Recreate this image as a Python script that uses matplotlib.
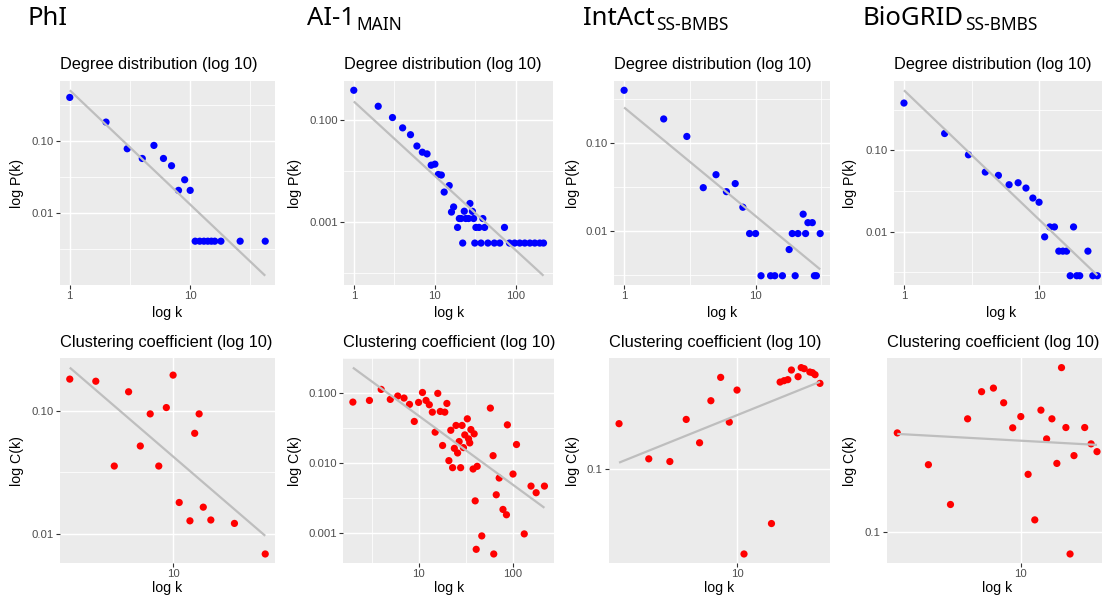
import numpy as np
import matplotlib
matplotlib.use("Agg")
import matplotlib.pyplot as plt
from matplotlib.ticker import FixedLocator, FixedFormatter, NullFormatter

# ---------------- data ----------------
phi_deg_k = [1, 2, 3, 4, 5, 6, 7, 8, 9, 10, 11, 12, 13, 14, 15, 16, 18, 26, 42]
phi_deg_p = [0.398, 0.1816, 0.0778, 0.0571, 0.0865, 0.0571, 0.0453, 0.0207, 0.0290, 0.0207,
             0.00411, 0.00411, 0.00411, 0.00411, 0.00411, 0.00411, 0.00411, 0.00411, 0.00411]

phi_cc_k = [2, 3, 4, 5, 6, 7, 8, 9, 10, 11, 13, 14, 15, 16, 18, 26, 42]
phi_cc_c = [0.180, 0.173, 0.0354, 0.142, 0.0515, 0.0939, 0.0354, 0.1057, 0.194, 0.0179,
            0.0127, 0.0653, 0.0939, 0.0164, 0.0129, 0.0121, 0.00683]

ai1_deg_k = [1, 2, 3, 4, 5, 6, 7, 8, 9, 10, 11, 12, 13, 15, 16, 17, 19, 20, 21, 22, 23, 24,
             26, 27, 29, 30, 31, 32, 35, 37, 39, 41, 45, 54, 63, 72, 83, 96, 111, 128, 148,
             170, 196, 218]
ai1_deg_p = [0.377, 0.183, 0.110, 0.069, 0.0507, 0.0304, 0.0230, 0.0213, 0.0128, 0.0134,
             0.0084, 0.0082, 0.0038, 0.0051, 0.00154, 0.00194, 0.00077, 0.00115, 0.00115,
             0.00038, 0.0016, 0.00115, 0.00115, 0.00227, 0.00159, 0.00115, 0.00038, 0.00077,
             0.00077, 0.00038, 0.00115, 0.00077, 0.00038, 0.00038, 0.00038, 0.00077, 0.00038,
             0.00038, 0.00038, 0.00038, 0.00038, 0.00038, 0.00038, 0.00038]

ai1_cc_k = [2, 3, 4, 5, 6, 7, 8, 9, 10, 11, 12, 13, 14, 15, 16, 17, 18, 19, 20, 21, 22, 23,
            24, 25, 26, 27, 28, 29, 30, 31, 33, 34, 35, 36, 38, 39, 40, 41, 42, 47, 58, 62,
            63, 67, 72, 79, 86, 88, 101, 110, 133, 157, 178, 218]
ai1_cc_c = [0.0750, 0.0792, 0.114, 0.0820, 0.0916, 0.0857, 0.0695, 0.0396, 0.0742, 0.103,
            0.0792, 0.0687, 0.0538, 0.0278, 0.100, 0.0551, 0.0179, 0.0538, 0.0717, 0.01086,
            0.0296, 0.00861, 0.0163, 0.0347, 0.0140, 0.0204, 0.00861, 0.0347, 0.0167, 0.0254,
            0.0432, 0.0223, 0.0195, 0.0303, 0.00824, 0.0263, 0.00288, 0.000582, 0.00900,
            0.000906, 0.0615, 0.0128, 0.000499, 0.00352, 0.00612, 0.00217, 0.00182, 0.0354,
            0.00698, 0.0185, 0.000968, 0.00469, 0.00377, 0.00469]

intact_deg_k = [1, 2, 3, 4, 5, 6, 7, 8, 9, 10, 11, 13, 14, 16, 18, 19, 20, 21, 23, 24, 25,
                27, 28, 29, 31]
intact_deg_p = [0.398, 0.188, 0.119, 0.0312, 0.0438, 0.0281, 0.0347, 0.0187, 0.0094, 0.0094,
                0.00312, 0.00312, 0.00312, 0.00312, 0.00619, 0.0094, 0.00312, 0.0094, 0.0156,
                0.0094, 0.0125, 0.0125, 0.00312, 0.00312, 0.0094]

intact_cc_k = [2, 3, 4, 5, 6, 7, 8, 9, 10, 11, 16, 18, 19, 20, 21, 23, 24, 25, 27, 28, 29, 31]
intact_cc_c = [0.1476, 0.109, 0.1065, 0.1531, 0.1252, 0.1799, 0.220, 0.1496, 0.1972, 0.048,
               0.0624, 0.2113, 0.2138, 0.2157, 0.2344, 0.2213, 0.2393, 0.2371, 0.2304, 0.2291,
               0.2252, 0.2089]

biogrid_deg_k = [1, 2, 3, 4, 5, 6, 7, 8, 9, 10, 11, 12, 13, 14, 15, 16, 17, 18, 19, 20, 23,
                 25, 27]
biogrid_deg_p = [0.385, 0.162, 0.0885, 0.0542, 0.0493, 0.0378, 0.0400, 0.0344, 0.0259, 0.0230,
                 0.0086, 0.0114, 0.0114, 0.00573, 0.00573, 0.00573, 0.00285, 0.0114, 0.00285,
                 0.00285, 0.00573, 0.00285, 0.00285]

biogrid_cc_k = [2, 3, 4, 5, 6, 7, 8, 9, 10, 11, 12, 13, 14, 15, 16, 17, 18, 19, 20, 23, 25, 27]
biogrid_cc_c = [0.2344, 0.1783, 0.1266, 0.2646, 0.3342, 0.3447, 0.3038, 0.2449, 0.2698, 0.1641,
                0.1109, 0.2851, 0.2226, 0.2646, 0.1803, 0.4111, 0.2455, 0.0827, 0.1928, 0.2455,
                0.2133, 0.1995]

network_names = ["PhI", "AI-1", "IntAct", "BioGRID"]
network_subs = ["", "MAIN", "SS-BMBS", "SS-BMBS"]
deg_title = "Degree distribution (log 10)"
cc_title = "Clustering coefficient (log 10)"

# ---------------- layout / style ----------------
W, H, DPI = 1102, 603, 100
SANS = ["Liberation Sans", "DejaVu Sans"]
plt.rcParams["font.family"] = SANS

fig = plt.figure(figsize=(W / DPI, H / DPI), dpi=DPI)
fig.patch.set_facecolor("white")

BG = "#EBEBEB"
TICKTXT = "#4D4D4D"
TICKCOL = "#333333"


def rect(l, t, r, b):
    return [l / W, 1 - b / H, (r - l) / W, (b - t) / H]


def r_format(vals):
    decs = []
    for v in vals:
        s = ("%.10f" % v).rstrip("0")
        decs.append(len(s.split(".")[1]) if "." in s else 0)
    d = max(decs) if decs else 0
    return ["%.*f" % (d, v) for v in vals]


def log_breaks(lo, hi, n=5):
    mn, mx = np.floor(lo), np.ceil(hi)
    if mx == mn:
        return np.array([mn])
    by = np.floor((mx - mn) / n) + 1
    return np.arange(mn, mx + by / 2, by)


def minor_breaks(b, lim):
    if len(b) < 2:
        return []
    bd = b[1] - b[0]
    b = list(b)
    if lim[0] < b[0]:
        b = [b[0] - bd] + b
    if lim[1] > b[-1]:
        b = b + [b[-1] + bd]
    return [(b[i] + b[i + 1]) / 2 for i in range(len(b) - 1)]


def expand(r):
    d = (r[1] - r[0]) * 0.05
    return (r[0] - d, r[1] + d)


def panel(box, k, v, color, title, ylabel, ylab_x, title_pad, xlab_gap):
    l, t, r, b = box
    ax = fig.add_axes(rect(l, t, r, b))
    ax.set_facecolor(BG)
    for s in ax.spines.values():
        s.set_visible(False)
    lx = np.log10(np.asarray(k, float))
    ly = np.log10(np.asarray(v, float))
    slope, icpt = np.polyfit(lx, ly, 1)
    fx = np.array([lx.min(), lx.max()])
    fy = icpt + slope * fx
    xr = (lx.min(), lx.max())
    yall = np.concatenate([ly, fy])
    yr = (yall.min(), yall.max())
    xl, yl = expand(xr), expand(yr)
    ax.set_xscale("log")
    ax.set_yscale("log")
    ax.set_xlim(10 ** xl[0], 10 ** xl[1])
    ax.set_ylim(10 ** yl[0], 10 ** yl[1])

    for axis, rng, lim in ((ax.xaxis, xr, xl), (ax.yaxis, yr, yl)):
        br = log_breaks(*rng)
        br = br[(br >= lim[0]) & (br <= lim[1])]
        mi = [m for m in minor_breaks(br, lim) if lim[0] <= m <= lim[1]]
        axis.set_major_locator(FixedLocator(10 ** br))
        axis.set_major_formatter(FixedFormatter(r_format(10 ** br)))
        axis.set_minor_locator(FixedLocator(10 ** np.array(mi)) if mi else FixedLocator([]))
        axis.set_minor_formatter(NullFormatter())

    ax.grid(True, which="major", color="white", linewidth=1.05)
    ax.grid(True, which="minor", color="white", linewidth=0.55)
    ax.set_axisbelow(True)
    ax.tick_params(which="major", length=2.6, width=0.8, color=TICKCOL,
                   labelsize=8.2, labelcolor=TICKTXT)
    ax.tick_params(axis="x", which="major", pad=1.6)
    ax.tick_params(axis="y", which="major", pad=2.2)
    ax.tick_params(which="minor", length=0)

    ax.scatter(k, v, s=27, color=color, edgecolors="none", zorder=3)
    ax.plot(10 ** fx, 10 ** fy, color="#BEBEBE", linewidth=1.6, zorder=4,
            solid_capstyle="butt")

    ax.set_title(title, loc="left", fontsize=11.8, pad=title_pad)
    ax.set_xlabel("log k", fontsize=10.2)
    ax.xaxis.label.set_va("baseline")
    ax.xaxis.set_label_coords(0.5, -xlab_gap / (b - t))
    ax.set_ylabel(ylabel, fontsize=10.2)
    ax.yaxis.label.set_rotation_mode("default")
    ax.yaxis.label.set_va("center")
    ax.yaxis.label.set_ha("center")
    ax.yaxis.set_label_coords((ylab_x - l) / (r - l), 0.5)
    return ax


top_boxes = [(60, 81, 275, 285), (344.3, 81, 553, 285), (614.3, 81, 830, 285),
             (894.3, 81, 1107, 285)]
bot_boxes = [(60, 358.3, 275, 563.3), (343.3, 358.3, 554, 563.3), (609, 358.3, 830, 563.3),
             (887.3, 358.3, 1107, 563.3)]
ylab_xs = [16.5, 294.5, 572.5, 850]

deg_data = [(phi_deg_k, phi_deg_p), (ai1_deg_k, ai1_deg_p), (intact_deg_k, intact_deg_p),
            (biogrid_deg_k, biogrid_deg_p)]
cc_data = [(phi_cc_k, phi_cc_c), (ai1_cc_k, ai1_cc_c), (intact_cc_k, intact_cc_c),
           (biogrid_cc_k, biogrid_cc_c)]

for i in range(4):
    panel(top_boxes[i], deg_data[i][0], deg_data[i][1], "#0000FF", deg_title, "log P(k)",
          ylab_xs[i], 9.0, 31.5)
    panel(bot_boxes[i], cc_data[i][0], cc_data[i][1], "#FF0000", cc_title, "log C(k)",
          ylab_xs[i], 8.4, 29.0)

# ---------------- network headings ----------------
head_xs = [27.3, 307.3, 583.3, 862.3]
fig.canvas.draw()
renderer = fig.canvas.get_renderer()
for i in range(4):
    t = fig.text(head_xs[i] / W, 1 - 25 / H, network_names[i], fontsize=18.5,
                 family=["Noto Sans", "DejaVu Sans"], va="baseline", ha="left")
    if network_subs[i]:
        bb = t.get_window_extent(renderer=renderer)
        fig.text((bb.x1 + 1.5) / W, 1 - 29.5 / H, network_subs[i], fontsize=12.5,
                 family=["Noto Sans", "DejaVu Sans"], va="baseline", ha="left")

fig.savefig("out.png", dpi=DPI, facecolor="white")
